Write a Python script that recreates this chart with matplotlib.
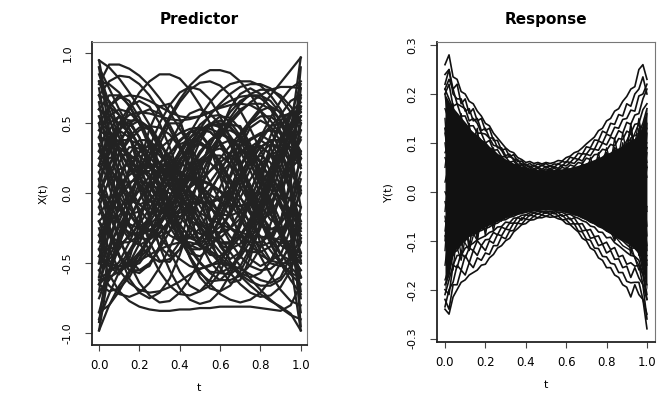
import matplotlib
matplotlib.use("Agg")
import matplotlib.pyplot as plt

# grid of t values for the predictor curves
t_pred = [0.00, 0.05, 0.10, 0.15, 0.20, 0.25, 0.30, 0.35, 0.40, 0.45, 0.50,
          0.55, 0.60, 0.65, 0.70, 0.75, 0.80, 0.85, 0.90, 0.95, 1.00]

predictor_curves = [
    [0.95, 0.90, 0.82, 0.72, 0.61, 0.49, 0.37, 0.25, 0.13, 0.02, -0.09, -0.20, -0.31, -0.42, -0.52, -0.61, -0.69, -0.76, -0.82, -0.87, -0.90],
    [-0.98, -0.80, -0.66, -0.56, -0.47, -0.38, -0.29, -0.20, -0.11, -0.02, 0.07, 0.16, 0.25, 0.34, 0.43, 0.52, 0.61, 0.70, 0.79, 0.88, 0.97],
    [-0.30, -0.22, -0.12, 0.00, 0.13, 0.27, 0.41, 0.55, 0.67, 0.77, 0.84, 0.88, 0.88, 0.86, 0.80, 0.71, 0.59, 0.45, 0.30, 0.15, 0.02],
    [0.10, 0.28, 0.45, 0.60, 0.72, 0.80, 0.85, 0.85, 0.82, 0.74, 0.63, 0.50, 0.35, 0.20, 0.05, -0.08, -0.20, -0.30, -0.37, -0.42, -0.45],
    [0.78, 0.92, 0.92, 0.89, 0.84, 0.77, 0.68, 0.58, 0.46, 0.34, 0.21, 0.08, -0.05, -0.17, -0.28, -0.37, -0.44, -0.48, -0.50, -0.50, -0.48],
    [-0.40, -0.58, -0.70, -0.77, -0.81, -0.83, -0.84, -0.84, -0.83, -0.83, -0.82, -0.82, -0.81, -0.81, -0.81, -0.81, -0.82, -0.83, -0.84, -0.80, -0.65],
    [0.55, 0.35, 0.15, -0.05, -0.25, -0.42, -0.56, -0.66, -0.72, -0.73, -0.70, -0.62, -0.50, -0.36, -0.20, -0.04, 0.12, 0.27, 0.40, 0.50, 0.58],
    [0.40, 0.38, 0.33, 0.26, 0.16, 0.05, -0.07, -0.20, -0.33, -0.45, -0.56, -0.65, -0.72, -0.76, -0.78, -0.76, -0.71, -0.62, -0.50, -0.35, -0.15],
    [0.70, 0.66, 0.56, 0.41, 0.22, 0.00, -0.22, -0.41, -0.56, -0.66, -0.70, -0.66, -0.56, -0.41, -0.22, 0.00, 0.22, 0.41, 0.56, 0.66, 0.70],
    [-0.60, -0.57, -0.49, -0.35, -0.19, 0.00, 0.19, 0.35, 0.49, 0.57, 0.60, 0.57, 0.49, 0.35, 0.19, 0.00, -0.19, -0.35, -0.49, -0.57, -0.60],
    [0.50, 0.45, 0.29, 0.08, -0.15, -0.35, -0.48, -0.49, -0.40, -0.23, 0.00, 0.23, 0.40, 0.49, 0.48, 0.35, 0.15, -0.08, -0.29, -0.45, -0.50],
    [-0.70, -0.62, -0.52, -0.41, -0.29, -0.16, -0.03, 0.10, 0.23, 0.35, 0.46, 0.56, 0.64, 0.71, 0.76, 0.78, 0.78, 0.75, 0.68, 0.58, 0.45],
    [0.30, 0.19, 0.35, 0.49, 0.57, 0.60, 0.57, 0.49, 0.35, 0.19, 0.00, -0.19, -0.35, -0.49, -0.57, -0.60, -0.57, -0.49, -0.35, -0.19, -0.30],
    [-0.35, -0.23, -0.44, -0.61, -0.71, -0.75, -0.71, -0.61, -0.44, -0.23, 0.00, 0.23, 0.44, 0.61, 0.71, 0.75, 0.71, 0.61, 0.44, 0.23, 0.40],
    [0.60, 0.56, 0.50, 0.43, 0.35, 0.26, 0.17, 0.07, -0.03, -0.13, -0.23, -0.33, -0.42, -0.51, -0.59, -0.66, -0.72, -0.77, -0.81, -0.86, -0.98],
    [-0.62, -0.60, -0.56, -0.50, -0.42, -0.33, -0.23, -0.12, -0.01, 0.10, 0.21, 0.31, 0.41, 0.50, 0.58, 0.65, 0.70, 0.74, 0.76, 0.76, 0.75],
    [-0.20, -0.12, -0.03, 0.06, 0.15, 0.24, 0.32, 0.38, 0.43, 0.46, 0.47, 0.46, 0.43, 0.38, 0.32, 0.24, 0.15, 0.06, -0.03, -0.12, -0.20],
    [0.25, 0.18, 0.09, -0.01, -0.11, -0.21, -0.31, -0.40, -0.47, -0.52, -0.54, -0.52, -0.47, -0.40, -0.31, -0.21, -0.11, -0.01, 0.09, 0.18, 0.25],
    [-0.50, -0.38, -0.24, -0.09, 0.07, 0.23, 0.39, 0.53, 0.65, 0.74, 0.79, 0.80, 0.77, 0.70, 0.59, 0.46, 0.31, 0.15, 0.00, -0.14, -0.27],
    [0.10, -0.25, -0.45, -0.55, -0.55, -0.50, -0.40, -0.27, -0.12, 0.04, 0.19, 0.34, 0.47, 0.58, 0.66, 0.70, 0.70, 0.66, 0.57, 0.42, 0.20],
    [0.95, 0.55, 0.30, 0.18, 0.14, 0.16, 0.22, 0.29, 0.35, 0.38, 0.37, 0.31, 0.22, 0.10, -0.03, -0.15, -0.23, -0.26, -0.22, -0.10, 0.15],
    [-0.45, -0.30, -0.16, -0.05, 0.02, 0.05, 0.04, 0.00, -0.07, -0.15, -0.22, -0.27, -0.28, -0.25, -0.18, -0.07, 0.06, 0.18, 0.28, 0.45, 0.97],
    [-0.98, -0.55, -0.28, -0.10, 0.03, 0.12, 0.17, 0.18, 0.16, 0.11, 0.05, -0.01, -0.06, -0.09, -0.09, -0.06, 0.00, -0.04, -0.20, -0.50, -0.98],
    [-0.65, -0.58, -0.38, -0.10, 0.20, 0.46, 0.62, 0.64, 0.53, 0.30, 0.00, -0.30, -0.53, -0.64, -0.62, -0.46, -0.20, 0.10, 0.38, 0.58, 0.65],
    [-0.30, -0.10, 0.05, 0.15, 0.20, 0.21, 0.18, 0.12, 0.05, -0.02, -0.06, -0.07, -0.04, 0.03, 0.13, 0.25, 0.37, 0.48, 0.55, 0.57, 0.50],
    [0.30, 0.35, 0.38, 0.38, 0.35, 0.29, 0.21, 0.11, 0.00, -0.12, -0.24, -0.36, -0.47, -0.57, -0.65, -0.71, -0.74, -0.73, -0.67, -0.55, -0.35],
    [0.40, 0.62, 0.70, 0.66, 0.54, 0.36, 0.15, -0.07, -0.28, -0.46, -0.60, -0.68, -0.70, -0.66, -0.56, -0.42, -0.25, -0.08, 0.09, 0.24, 0.38],
    [-0.20, -0.40, -0.55, -0.64, -0.69, -0.71, -0.70, -0.67, -0.63, -0.58, -0.54, -0.51, -0.50, -0.51, -0.54, -0.58, -0.62, -0.64, -0.60, -0.45, -0.10],
    [0.20, 0.38, 0.50, 0.56, 0.58, 0.57, 0.55, 0.53, 0.52, 0.53, 0.55, 0.58, 0.61, 0.63, 0.64, 0.63, 0.59, 0.52, 0.42, 0.30, 0.18],
    [0.80, 0.78, 0.72, 0.62, 0.50, 0.38, 0.27, 0.19, 0.14, 0.11, 0.09, 0.06, 0.01, -0.07, -0.18, -0.31, -0.45, -0.58, -0.69, -0.77, -0.80],
    [-0.85, -0.80, -0.70, -0.57, -0.43, -0.30, -0.19, -0.12, -0.08, -0.07, -0.07, -0.06, -0.03, 0.03, 0.13, 0.26, 0.40, 0.54, 0.66, 0.75, 0.80],
    [0.00, 0.20, 0.37, 0.48, 0.52, 0.47, 0.33, 0.13, -0.09, -0.28, -0.38, -0.28, -0.09, 0.13, 0.33, 0.47, 0.52, 0.48, 0.37, 0.20, 0.00],
    [0.05, -0.15, -0.33, -0.47, -0.55, -0.52, -0.38, -0.17, 0.08, 0.30, 0.42, 0.33, 0.12, -0.12, -0.33, -0.47, -0.52, -0.48, -0.35, -0.15, 0.10],
    [0.20, 0.10, -0.02, -0.14, -0.24, -0.30, -0.31, -0.27, -0.18, -0.05, 0.10, 0.26, 0.41, 0.54, 0.64, 0.71, 0.74, 0.74, 0.70, 0.62, 0.52],
    [0.85, 0.65, 0.45, 0.24, 0.03, -0.18, -0.38, -0.55, -0.68, -0.76, -0.79, -0.77, -0.70, -0.58, -0.43, -0.26, -0.08, 0.10, 0.27, 0.44, 0.60],
    [-0.85, -0.58, -0.32, -0.08, 0.14, 0.33, 0.50, 0.63, 0.72, 0.76, 0.74, 0.67, 0.55, 0.40, 0.23, 0.05, -0.13, -0.29, -0.43, -0.53, -0.60],
    [0.70, 0.80, 0.84, 0.83, 0.78, 0.70, 0.59, 0.46, 0.32, 0.18, 0.04, -0.09, -0.21, -0.31, -0.38, -0.42, -0.42, -0.38, -0.30, -0.17, 0.00],
    [-0.55, -0.66, -0.72, -0.74, -0.71, -0.64, -0.53, -0.39, -0.23, -0.06, 0.11, 0.27, 0.41, 0.52, 0.60, 0.64, 0.64, 0.60, 0.52, 0.40, 0.25],
    [0.30, 0.50, 0.55, 0.42, 0.15, -0.15, -0.38, -0.45, -0.35, -0.12, 0.15, 0.37, 0.45, 0.38, 0.16, -0.12, -0.36, -0.48, -0.44, -0.25, 0.05],
    [-0.30, -0.52, -0.58, -0.47, -0.22, 0.08, 0.35, 0.50, 0.50, 0.35, 0.10, -0.17, -0.38, -0.47, -0.42, -0.22, 0.06, 0.33, 0.52, 0.58, 0.50],
    [0.90, 0.45, 0.12, -0.10, -0.22, -0.26, -0.22, -0.12, 0.01, 0.15, 0.28, 0.38, 0.44, 0.45, 0.41, 0.33, 0.22, 0.11, 0.02, -0.05, -0.10],
    [-0.92, -0.40, -0.05, 0.18, 0.30, 0.34, 0.30, 0.20, 0.07, -0.07, -0.20, -0.30, -0.35, -0.35, -0.30, -0.20, -0.07, 0.08, 0.24, 0.40, 0.55],
    [0.20, 0.25, 0.28, 0.27, 0.22, 0.14, 0.04, -0.07, -0.17, -0.25, -0.29, -0.29, -0.24, -0.15, -0.03, 0.10, 0.21, 0.27, 0.24, 0.00, -0.95],
    [0.00, -0.12, -0.22, -0.28, -0.30, -0.27, -0.20, -0.10, 0.02, 0.14, 0.24, 0.30, 0.32, 0.28, 0.19, 0.06, -0.08, -0.19, -0.22, 0.10, 0.90],
    [0.10, -0.12, -0.32, -0.50, -0.64, -0.73, -0.78, -0.77, -0.71, -0.61, -0.48, -0.33, -0.17, -0.01, 0.13, 0.25, 0.33, 0.38, 0.38, 0.33, 0.25],
    [-0.40, -0.40, -0.37, -0.31, -0.22, -0.11, 0.02, 0.16, 0.30, 0.43, 0.55, 0.65, 0.73, 0.78, 0.80, 0.80, 0.77, 0.70, 0.60, 0.45, 0.25],
    [0.65, 0.62, 0.56, 0.46, 0.34, 0.20, 0.05, -0.10, -0.25, -0.38, -0.49, -0.57, -0.62, -0.62, -0.59, -0.51, -0.39, -0.22, -0.02, 0.20, 0.45],
    [-0.50, -0.47, -0.40, -0.29, -0.15, 0.00, 0.15, 0.28, 0.38, 0.44, 0.46, 0.44, 0.37, 0.26, 0.12, -0.04, -0.20, -0.36, -0.50, -0.62, -0.72],
    [0.45, 0.40, 0.31, 0.19, 0.05, -0.09, -0.21, -0.30, -0.34, -0.32, -0.25, -0.12, 0.04, 0.21, 0.37, 0.50, 0.59, 0.62, 0.58, 0.46, 0.28],
    [-0.10, 0.10, 0.28, 0.41, 0.47, 0.46, 0.37, 0.22, 0.03, -0.17, -0.35, -0.49, -0.57, -0.58, -0.52, -0.39, -0.22, -0.02, 0.19, 0.38, 0.55],
    [0.15, -0.05, -0.22, -0.33, -0.37, -0.33, -0.23, -0.08, 0.09, 0.26, 0.40, 0.49, 0.52, 0.48, 0.38, 0.23, 0.05, -0.14, -0.31, -0.45, -0.55],
    [-0.45, -0.50, -0.52, -0.51, -0.48, -0.44, -0.40, -0.37, -0.35, -0.35, -0.37, -0.41, -0.46, -0.52, -0.58, -0.63, -0.66, -0.66, -0.62, -0.52, -0.35],
    [0.50, 0.62, 0.68, 0.70, 0.69, 0.66, 0.62, 0.58, 0.55, 0.54, 0.55, 0.58, 0.62, 0.66, 0.69, 0.70, 0.68, 0.62, 0.52, 0.38, 0.20],
    [0.80, 0.60, 0.40, 0.22, 0.07, -0.05, -0.13, -0.17, -0.17, -0.13, -0.06, 0.03, 0.13, 0.22, 0.29, 0.33, 0.33, 0.28, 0.18, 0.02, -0.20],
    [-0.75, -0.55, -0.36, -0.19, -0.05, 0.05, 0.12, 0.15, 0.14, 0.10, 0.03, -0.06, -0.15, -0.24, -0.31, -0.35, -0.35, -0.30, -0.19, -0.02, 0.25],
    [0.00, 0.15, 0.28, 0.38, 0.45, 0.48, 0.47, 0.42, 0.33, 0.21, 0.07, -0.08, -0.22, -0.35, -0.45, -0.52, -0.55, -0.54, -0.48, -0.38, -0.22],
    [0.35, 0.15, -0.05, -0.22, -0.36, -0.45, -0.49, -0.47, -0.40, -0.29, -0.15, 0.00, 0.15, 0.29, 0.41, 0.50, 0.55, 0.55, 0.49, 0.37, 0.18],
    [-0.65, -0.70, -0.68, -0.60, -0.47, -0.31, -0.13, 0.05, 0.22, 0.36, 0.45, 0.49, 0.48, 0.41, 0.30, 0.16, 0.00, -0.15, -0.28, -0.38, -0.43],
    [0.60, 0.70, 0.70, 0.63, 0.50, 0.33, 0.13, -0.08, -0.28, -0.45, -0.57, -0.63, -0.62, -0.55, -0.42, -0.25, -0.06, 0.13, 0.30, 0.45, 0.55],
    [-0.20, -0.30, -0.35, -0.35, -0.30, -0.21, -0.09, 0.05, 0.19, 0.32, 0.42, 0.48, 0.50, 0.47, 0.40, 0.30, 0.17, 0.03, -0.10, -0.22, -0.32],
    [0.25, 0.40, 0.45, 0.40, 0.27, 0.10, -0.08, -0.24, -0.35, -0.38, -0.34, -0.23, -0.07, 0.11, 0.27, 0.38, 0.42, 0.37, 0.24, 0.04, -0.25],
    [-0.40, -0.20, 0.00, 0.17, 0.29, 0.35, 0.34, 0.27, 0.15, 0.00, -0.15, -0.28, -0.37, -0.40, -0.36, -0.26, -0.11, 0.08, 0.28, 0.48, 0.68],
    [0.55, 0.45, 0.36, 0.28, 0.22, 0.18, 0.15, 0.14, 0.13, 0.12, 0.10, 0.07, 0.02, -0.04, -0.12, -0.21, -0.31, -0.41, -0.50, -0.58, -0.65],
    [-0.15, -0.05, 0.05, 0.13, 0.18, 0.20, 0.19, 0.15, 0.09, 0.02, -0.05, -0.11, -0.15, -0.16, -0.13, -0.06, 0.04, 0.18, 0.35, 0.55, 0.78],
    [0.90, 0.75, 0.60, 0.46, 0.33, 0.22, 0.12, 0.04, -0.03, -0.09, -0.14, -0.18, -0.22, -0.25, -0.28, -0.30, -0.31, -0.32, -0.33, -0.40, -0.60],
    [-0.90, -0.72, -0.56, -0.43, -0.32, -0.23, -0.15, -0.08, -0.02, 0.04, 0.10, 0.16, 0.22, 0.28, 0.34, 0.39, 0.43, 0.45, 0.44, 0.30, -0.10],
    [0.05, 0.30, 0.50, 0.62, 0.66, 0.62, 0.50, 0.33, 0.13, -0.08, -0.27, -0.42, -0.50, -0.52, -0.46, -0.34, -0.16, 0.04, 0.25, 0.45, 0.62],
    [-0.05, -0.28, -0.45, -0.55, -0.57, -0.51, -0.38, -0.20, 0.00, 0.20, 0.37, 0.49, 0.55, 0.54, 0.46, 0.32, 0.14, -0.06, -0.26, -0.44, -0.60],
    [0.40, 0.20, 0.05, -0.05, -0.08, -0.05, 0.03, 0.14, 0.27, 0.39, 0.49, 0.55, 0.56, 0.51, 0.41, 0.27, 0.10, -0.08, -0.26, -0.42, -0.55],
    [-0.35, -0.15, 0.00, 0.08, 0.10, 0.06, -0.03, -0.15, -0.28, -0.40, -0.50, -0.56, -0.57, -0.53, -0.44, -0.30, -0.13, 0.06, 0.26, 0.45, 0.62],
    [0.75, 0.35, 0.05, -0.15, -0.25, -0.27, -0.22, -0.12, 0.00, 0.12, 0.22, 0.27, 0.27, 0.21, 0.11, -0.02, -0.15, -0.25, -0.28, -0.15, 0.30],
    [-0.70, -0.25, 0.08, 0.28, 0.38, 0.38, 0.30, 0.17, 0.02, -0.13, -0.25, -0.32, -0.32, -0.25, -0.13, 0.02, 0.17, 0.28, 0.30, 0.10, -0.50],
    [0.50, 0.05, -0.20, -0.30, -0.28, -0.18, -0.04, 0.11, 0.24, 0.32, 0.35, 0.31, 0.21, 0.07, -0.08, -0.22, -0.31, -0.32, -0.20, 0.10, 0.75],
    [-0.50, -0.05, 0.22, 0.33, 0.32, 0.22, 0.07, -0.09, -0.23, -0.31, -0.32, -0.25, -0.12, 0.04, 0.19, 0.30, 0.34, 0.28, 0.10, -0.25, -0.85],
    [0.20, 0.45, 0.55, 0.52, 0.40, 0.22, 0.02, -0.17, -0.32, -0.40, -0.40, -0.32, -0.17, 0.02, 0.20, 0.33, 0.38, 0.33, 0.15, -0.20, -0.70],
    [0.65, 0.20, -0.08, -0.22, -0.25, -0.18, -0.05, 0.10, 0.24, 0.33, 0.36, 0.32, 0.23, 0.10, -0.03, -0.13, -0.18, -0.15, -0.02, 0.25, 0.70],
    [-0.60, -0.15, 0.12, 0.25, 0.27, 0.20, 0.07, -0.08, -0.22, -0.32, -0.35, -0.31, -0.20, -0.05, 0.10, 0.22, 0.27, 0.22, 0.05, -0.25, -0.75],
    [0.05, 0.35, 0.50, 0.50, 0.40, 0.23, 0.03, -0.17, -0.33, -0.43, -0.45, -0.40, -0.28, -0.12, 0.06, 0.22, 0.33, 0.37, 0.30, 0.08, -0.35],
    [-0.25, -0.48, -0.55, -0.50, -0.36, -0.17, 0.04, 0.23, 0.37, 0.44, 0.43, 0.34, 0.19, 0.01, -0.17, -0.31, -0.38, -0.35, -0.20, 0.08, 0.50],
    [0.35, 0.10, -0.10, -0.24, -0.32, -0.33, -0.28, -0.19, -0.07, 0.06, 0.18, 0.28, 0.35, 0.38, 0.37, 0.32, 0.23, 0.10, -0.08, -0.30, -0.60],
    [0.60, 0.52, 0.40, 0.26, 0.12, 0.00, -0.09, -0.14, -0.14, -0.10, -0.02, 0.08, 0.18, 0.26, 0.30, 0.29, 0.22, 0.10, -0.06, -0.24, -0.42],
    [-0.55, -0.45, -0.32, -0.18, -0.04, 0.08, 0.17, 0.22, 0.22, 0.17, 0.08, -0.03, -0.15, -0.25, -0.31, -0.31, -0.24, -0.11, 0.07, 0.28, 0.50],
    [0.15, 0.32, 0.45, 0.52, 0.52, 0.45, 0.32, 0.15, -0.04, -0.22, -0.36, -0.44, -0.45, -0.38, -0.24, -0.06, 0.14, 0.33, 0.48, 0.57, 0.58],
    [-0.10, -0.30, -0.45, -0.52, -0.50, -0.40, -0.24, -0.04, 0.16, 0.33, 0.45, 0.50, 0.47, 0.37, 0.21, 0.02, -0.17, -0.33, -0.44, -0.48, -0.45],
    [0.45, 0.55, 0.60, 0.58, 0.50, 0.37, 0.21, 0.05, -0.09, -0.19, -0.24, -0.22, -0.15, -0.03, 0.12, 0.27, 0.40, 0.48, 0.50, 0.44, 0.30],
    [-0.45, -0.52, -0.55, -0.52, -0.44, -0.32, -0.17, -0.02, 0.11, 0.20, 0.24, 0.22, 0.14, 0.02, -0.13, -0.28, -0.41, -0.50, -0.52, -0.46, -0.32],
    [0.70, 0.45, 0.22, 0.04, -0.08, -0.14, -0.13, -0.06, 0.05, 0.18, 0.30, 0.38, 0.42, 0.40, 0.33, 0.21, 0.06, -0.10, -0.26, -0.40, -0.50],
    [-0.65, -0.42, -0.20, -0.02, 0.12, 0.20, 0.22, 0.17, 0.07, -0.06, -0.19, -0.30, -0.36, -0.36, -0.30, -0.18, -0.02, 0.16, 0.34, 0.50, 0.62],
    [0.05, -0.05, -0.12, -0.15, -0.13, -0.06, 0.05, 0.18, 0.30, 0.40, 0.45, 0.44, 0.37, 0.25, 0.10, -0.06, -0.20, -0.31, -0.36, -0.34, -0.25],
    [-0.05, 0.08, 0.17, 0.21, 0.19, 0.11, -0.01, -0.15, -0.28, -0.37, -0.40, -0.37, -0.28, -0.14, 0.02, 0.17, 0.29, 0.35, 0.33, 0.22, 0.02],
]

# coarse grid for the inner response curves
t_resp = [0.00, 0.04, 0.08, 0.12, 0.16, 0.20, 0.24, 0.28, 0.32, 0.36, 0.40, 0.44, 0.48,
          0.52, 0.56, 0.60, 0.64, 0.68, 0.72, 0.76, 0.80, 0.84, 0.88, 0.92, 0.96, 1.00]

# solid black core where the response curves overlap completely
resp_core_upper = [0.20, 0.17, 0.15, 0.13, 0.115, 0.10, 0.085, 0.072, 0.062, 0.055, 0.05, 0.046, 0.045,
                   0.045, 0.046, 0.048, 0.052, 0.057, 0.063, 0.07, 0.078, 0.086, 0.095, 0.105, 0.115, 0.17]
resp_core_lower = [-0.20, -0.125, -0.105, -0.09, -0.08, -0.072, -0.064, -0.057, -0.05, -0.045, -0.041, -0.038, -0.036,
                   -0.036, -0.038, -0.042, -0.047, -0.054, -0.062, -0.07, -0.08, -0.09, -0.10, -0.11, -0.125, -0.20]

response_inner = [
    [0.15, -0.08, 0.12, -0.06, 0.09, -0.04, 0.07, -0.03, 0.05, -0.02, 0.04, -0.01, 0.03, -0.02, 0.04, -0.02, 0.05, -0.03, 0.06, -0.04, 0.08, -0.06, 0.10, -0.08, 0.13, -0.12],
    [-0.12, 0.10, -0.09, 0.11, -0.07, 0.08, -0.05, 0.06, -0.03, 0.04, -0.02, 0.03, -0.02, 0.035, -0.02, 0.04, -0.03, 0.05, -0.04, 0.07, -0.05, 0.09, -0.08, 0.11, -0.10, 0.14],
    [0.05, 0.18, 0.02, 0.14, 0.00, 0.10, 0.01, 0.07, 0.00, 0.05, 0.01, 0.04, 0.00, 0.04, 0.01, 0.05, 0.00, 0.06, 0.01, 0.08, 0.00, 0.11, 0.02, 0.14, 0.03, 0.16],
    [-0.05, -0.16, 0.00, -0.12, 0.02, -0.09, 0.01, -0.06, 0.00, -0.04, 0.00, -0.03, 0.01, -0.03, 0.00, -0.04, 0.01, -0.05, 0.00, -0.07, 0.01, -0.10, 0.00, -0.13, 0.02, -0.15],
    [0.20, 0.05, 0.16, 0.03, 0.12, 0.02, 0.09, 0.01, 0.06, 0.00, 0.05, 0.00, 0.04, 0.00, 0.04, 0.01, 0.05, 0.01, 0.07, 0.02, 0.09, 0.03, 0.12, 0.04, 0.15, 0.06],
    [-0.15, -0.02, -0.13, 0.00, -0.10, 0.00, -0.08, 0.00, -0.05, 0.00, -0.04, 0.00, -0.03, 0.00, -0.03, 0.00, -0.04, 0.00, -0.05, -0.01, -0.07, -0.01, -0.10, -0.02, -0.13, -0.03],
    [0.08, 0.12, 0.15, 0.06, 0.02, 0.09, 0.06, -0.01, 0.03, 0.04, -0.01, 0.02, 0.03, -0.01, 0.02, 0.03, -0.01, 0.03, 0.05, 0.00, 0.06, 0.09, 0.02, 0.10, 0.14, 0.05],
    [-0.02, -0.10, -0.04, 0.04, -0.08, -0.06, 0.02, -0.05, -0.02, 0.01, -0.03, -0.01, 0.01, -0.02, 0.00, 0.01, -0.03, -0.01, 0.02, -0.05, -0.03, 0.03, -0.09, -0.05, 0.04, -0.11],
    [0.12, 0.03, -0.06, 0.08, 0.13, 0.00, -0.03, 0.06, 0.03, -0.02, 0.03, 0.02, -0.01, 0.02, 0.03, -0.01, 0.02, 0.04, -0.02, 0.05, 0.08, -0.02, 0.07, 0.13, 0.02, 0.09],
    [-0.08, 0.06, 0.01, -0.11, -0.02, 0.05, -0.06, -0.02, 0.03, -0.04, 0.00, 0.02, -0.02, 0.00, -0.02, 0.02, 0.00, -0.03, 0.03, 0.01, -0.07, 0.04, -0.03, -0.10, 0.06, -0.04],
    [0.02, 0.09, -0.11, 0.02, 0.05, -0.07, 0.04, 0.03, -0.04, 0.02, 0.02, -0.02, 0.02, 0.01, -0.02, 0.02, 0.01, -0.02, 0.04, -0.03, 0.02, 0.07, -0.06, 0.05, 0.09, -0.07],
    [0.17, 0.12, 0.07, 0.13, 0.05, 0.07, 0.03, 0.05, 0.02, 0.03, 0.01, 0.02, 0.01, 0.02, 0.02, 0.02, 0.03, 0.02, 0.04, 0.06, 0.05, 0.09, 0.08, 0.11, 0.12, 0.10],
    [-0.18, -0.13, -0.09, -0.12, -0.06, -0.08, -0.04, -0.05, -0.03, -0.03, -0.02, -0.02, -0.02, -0.01, -0.02, -0.03, -0.02, -0.04, -0.05, -0.06, -0.08, -0.09, -0.11, -0.12, -0.15, -0.19],
    [0.00, -0.04, 0.08, -0.01, 0.03, 0.06, -0.04, 0.02, 0.04, -0.03, 0.02, 0.03, -0.02, 0.02, 0.03, -0.02, 0.03, 0.01, -0.04, 0.04, 0.01, -0.05, 0.05, 0.00, -0.06, 0.08],
    [0.13, -0.12, 0.05, 0.10, -0.09, 0.04, 0.06, -0.04, 0.03, 0.04, -0.02, 0.03, 0.02, -0.02, 0.03, 0.03, -0.02, 0.04, 0.05, -0.04, 0.07, 0.06, -0.07, 0.10, 0.08, -0.09],
    [-0.10, 0.14, -0.02, -0.08, 0.10, -0.03, -0.05, 0.07, -0.02, -0.03, 0.04, -0.01, -0.02, 0.03, -0.01, -0.02, 0.04, -0.03, -0.03, 0.07, -0.04, -0.06, 0.10, -0.06, -0.09, 0.12],
    [0.07, 0.02, 0.11, 0.10, 0.04, 0.09, 0.05, 0.02, 0.06, 0.03, 0.02, 0.04, 0.03, 0.02, 0.04, 0.03, 0.04, 0.05, 0.03, 0.06, 0.08, 0.05, 0.09, 0.12, 0.08, 0.13],
    [-0.06, -0.09, -0.14, -0.05, -0.09, -0.03, -0.07, -0.04, -0.01, -0.04, -0.02, -0.01, -0.03, -0.02, -0.01, -0.03, -0.02, -0.02, -0.05, -0.03, -0.06, -0.10, -0.05, -0.11, -0.16, -0.13],
    [0.10, -0.03, 0.06, 0.09, -0.05, 0.07, 0.00, 0.05, -0.02, 0.03, 0.01, -0.01, 0.02, 0.01, -0.01, 0.03, 0.00, 0.04, -0.02, 0.06, -0.01, 0.07, 0.04, -0.05, 0.10, 0.03],
    [-0.04, 0.12, -0.07, 0.03, 0.08, -0.05, 0.04, -0.03, 0.04, 0.00, 0.02, 0.01, -0.01, 0.02, 0.00, -0.01, 0.02, -0.02, 0.04, -0.02, 0.05, -0.04, 0.06, 0.07, -0.07, 0.05],
    [0.13, 0.08, -0.04, 0.11, 0.03, -0.02, 0.08, 0.01, 0.03, 0.04, 0.00, 0.03, 0.02, 0.00, 0.03, 0.01, 0.03, 0.00, 0.05, 0.03, -0.02, 0.08, 0.05, 0.00, 0.11, 0.09],
    [-0.09, -0.13, 0.03, -0.07, -0.10, 0.01, -0.05, -0.04, 0.00, -0.03, -0.01, 0.00, -0.02, -0.01, 0.01, -0.02, -0.02, 0.00, -0.04, -0.04, 0.00, -0.07, -0.05, 0.02, -0.10, -0.14],
]

# fine grid for the ragged outer response curves
t_edge = [0.00, 0.02, 0.04, 0.06, 0.08, 0.10, 0.12, 0.14, 0.16, 0.18, 0.20, 0.22, 0.24,
          0.26, 0.28, 0.30, 0.32, 0.34, 0.36, 0.38, 0.40, 0.42, 0.44, 0.46, 0.48, 0.50,
          0.52, 0.54, 0.56, 0.58, 0.60, 0.62, 0.64, 0.66, 0.68, 0.70, 0.72, 0.74, 0.76,
          0.78, 0.80, 0.82, 0.84, 0.86, 0.88, 0.90, 0.92, 0.94, 0.96, 0.98, 1.00]

response_outer = [
    [0.26, 0.28, 0.235, 0.23, 0.205, 0.20, 0.185, 0.18, 0.165, 0.155, 0.14, 0.135, 0.12, 0.11, 0.10, 0.09, 0.083, 0.08, 0.07, 0.066, 0.06, 0.062, 0.058, 0.06, 0.057, 0.06,
     0.058, 0.06, 0.064, 0.063, 0.07, 0.073, 0.08, 0.083, 0.09, 0.098, 0.105, 0.112, 0.125, 0.13, 0.145, 0.15, 0.165, 0.17, 0.185, 0.195, 0.21, 0.215, 0.25, 0.26, 0.23],
    [0.24, 0.25, 0.21, 0.22, 0.18, 0.19, 0.16, 0.17, 0.145, 0.15, 0.125, 0.13, 0.105, 0.105, 0.085, 0.088, 0.072, 0.076, 0.062, 0.063, 0.054, 0.058, 0.052, 0.057, 0.053, 0.058,
     0.052, 0.057, 0.056, 0.062, 0.06, 0.071, 0.068, 0.079, 0.077, 0.092, 0.09, 0.106, 0.105, 0.124, 0.12, 0.14, 0.138, 0.158, 0.155, 0.18, 0.175, 0.20, 0.21, 0.235, 0.20],
    [0.22, 0.25, 0.20, 0.19, 0.19, 0.165, 0.17, 0.145, 0.15, 0.125, 0.13, 0.11, 0.11, 0.09, 0.09, 0.074, 0.077, 0.065, 0.066, 0.055, 0.057, 0.05, 0.055, 0.049, 0.055, 0.05,
     0.054, 0.049, 0.058, 0.052, 0.062, 0.06, 0.069, 0.066, 0.078, 0.077, 0.088, 0.087, 0.104, 0.10, 0.118, 0.114, 0.132, 0.13, 0.148, 0.15, 0.167, 0.165, 0.196, 0.20, 0.22],
    [0.21, 0.23, 0.21, 0.18, 0.175, 0.17, 0.145, 0.15, 0.14, 0.12, 0.118, 0.11, 0.095, 0.093, 0.085, 0.07, 0.072, 0.068, 0.056, 0.058, 0.05, 0.053, 0.047, 0.051, 0.046, 0.052,
     0.047, 0.052, 0.048, 0.055, 0.053, 0.06, 0.058, 0.067, 0.063, 0.077, 0.074, 0.087, 0.085, 0.10, 0.096, 0.112, 0.108, 0.125, 0.12, 0.142, 0.138, 0.157, 0.16, 0.19, 0.21],
    [0.20, 0.22, 0.175, 0.18, 0.155, 0.155, 0.135, 0.135, 0.12, 0.12, 0.10, 0.105, 0.085, 0.086, 0.072, 0.072, 0.06, 0.063, 0.053, 0.055, 0.047, 0.049, 0.044, 0.048, 0.043, 0.047,
     0.044, 0.048, 0.045, 0.05, 0.047, 0.055, 0.052, 0.06, 0.058, 0.069, 0.066, 0.076, 0.077, 0.087, 0.085, 0.097, 0.094, 0.109, 0.107, 0.124, 0.12, 0.138, 0.14, 0.168, 0.18],
    [0.21, 0.19, 0.17, 0.16, 0.15, 0.14, 0.13, 0.115, 0.115, 0.105, 0.10, 0.09, 0.085, 0.075, 0.072, 0.063, 0.062, 0.055, 0.055, 0.049, 0.048, 0.044, 0.045, 0.042, 0.044, 0.042,
     0.045, 0.042, 0.046, 0.043, 0.047, 0.046, 0.05, 0.049, 0.055, 0.055, 0.061, 0.06, 0.068, 0.066, 0.075, 0.073, 0.082, 0.082, 0.092, 0.093, 0.103, 0.10, 0.12, 0.14, 0.17],
    [-0.24, -0.25, -0.215, -0.20, -0.185, -0.18, -0.17, -0.165, -0.16, -0.15, -0.148, -0.135, -0.128, -0.115, -0.11, -0.10, -0.095, -0.082, -0.075, -0.067, -0.065, -0.058, -0.057, -0.053, -0.053, -0.05,
     -0.052, -0.051, -0.055, -0.057, -0.065, -0.067, -0.075, -0.082, -0.095, -0.10, -0.115, -0.12, -0.135, -0.14, -0.155, -0.155, -0.17, -0.175, -0.19, -0.195, -0.215, -0.19, -0.21, -0.22, -0.28],
    [-0.22, -0.24, -0.19, -0.19, -0.16, -0.17, -0.145, -0.155, -0.135, -0.14, -0.125, -0.128, -0.11, -0.11, -0.092, -0.096, -0.08, -0.079, -0.064, -0.066, -0.056, -0.057, -0.05, -0.053, -0.047, -0.05,
     -0.046, -0.051, -0.049, -0.057, -0.057, -0.066, -0.065, -0.08, -0.082, -0.097, -0.099, -0.115, -0.116, -0.132, -0.133, -0.146, -0.148, -0.165, -0.165, -0.183, -0.186, -0.185, -0.185, -0.22, -0.25],
    [-0.235, -0.20, -0.185, -0.15, -0.16, -0.13, -0.145, -0.12, -0.13, -0.11, -0.12, -0.10, -0.105, -0.087, -0.09, -0.076, -0.078, -0.064, -0.064, -0.053, -0.056, -0.047, -0.05, -0.044, -0.047, -0.041,
     -0.046, -0.042, -0.049, -0.047, -0.056, -0.054, -0.066, -0.065, -0.08, -0.078, -0.095, -0.093, -0.11, -0.107, -0.125, -0.12, -0.138, -0.137, -0.155, -0.152, -0.175, -0.155, -0.176, -0.19, -0.26],
    [-0.20, -0.21, -0.15, -0.155, -0.125, -0.135, -0.115, -0.12, -0.10, -0.11, -0.098, -0.097, -0.083, -0.088, -0.072, -0.076, -0.064, -0.064, -0.052, -0.058, -0.047, -0.049, -0.043, -0.046, -0.04, -0.044,
     -0.04, -0.045, -0.042, -0.05, -0.047, -0.057, -0.053, -0.066, -0.065, -0.079, -0.077, -0.092, -0.09, -0.107, -0.103, -0.118, -0.114, -0.133, -0.13, -0.148, -0.145, -0.152, -0.15, -0.19, -0.22],
    [-0.21, -0.18, -0.15, -0.13, -0.13, -0.115, -0.11, -0.105, -0.098, -0.094, -0.09, -0.083, -0.08, -0.072, -0.071, -0.062, -0.063, -0.054, -0.053, -0.048, -0.047, -0.043, -0.043, -0.04, -0.041, -0.039,
     -0.041, -0.039, -0.042, -0.042, -0.046, -0.046, -0.051, -0.054, -0.059, -0.062, -0.07, -0.072, -0.082, -0.083, -0.094, -0.093, -0.104, -0.11, -0.117, -0.124, -0.13, -0.132, -0.14, -0.17, -0.22],
    [-0.19, -0.17, -0.125, -0.12, -0.105, -0.10, -0.09, -0.088, -0.082, -0.079, -0.075, -0.072, -0.066, -0.064, -0.058, -0.057, -0.052, -0.05, -0.046, -0.044, -0.042, -0.04, -0.039, -0.038, -0.037, -0.036,
     -0.037, -0.037, -0.039, -0.039, -0.042, -0.043, -0.047, -0.048, -0.053, -0.056, -0.062, -0.065, -0.071, -0.074, -0.08, -0.083, -0.09, -0.095, -0.10, -0.108, -0.115, -0.115, -0.125, -0.16, -0.21],
]

x_ticks = [0.0, 0.2, 0.4, 0.6, 0.8, 1.0]
x_labels = ["0.0", "0.2", "0.4", "0.6", "0.8", "1.0"]
pred_yticks = [-1.0, -0.5, 0.0, 0.5, 1.0]
pred_ylabels = ["-1.0", "-0.5", "0.0", "0.5", "1.0"]
resp_yticks = [-0.3, -0.2, -0.1, 0.0, 0.1, 0.2, 0.3]
resp_ylabels = ["-0.3", "-0.2", "-0.1", "0.0", "0.1", "0.2", "0.3"]


def style_axes(ax, title, ylabel, yticks, ylabels):
    ax.set_title(title, fontsize=11, fontweight="bold", pad=13)
    ax.set_xlabel("t", fontsize=8, labelpad=8)
    ax.set_ylabel(ylabel, fontsize=8, labelpad=10)
    ax.set_xticks(x_ticks)
    ax.set_xticklabels(x_labels, fontsize=8.5)
    ax.set_yticks(yticks)
    ax.set_yticklabels(ylabels, fontsize=8, rotation=90, va="center")
    ax.tick_params(axis="x", direction="out", length=4, width=0.8, pad=6, color="#444444")
    ax.tick_params(axis="y", direction="out", length=5, width=0.8, pad=9, color="#444444")
    for side in ["left", "bottom"]:
        ax.spines[side].set_linewidth(1.3)
        ax.spines[side].set_color("#222222")
    for side in ["top", "right"]:
        ax.spines[side].set_linewidth(0.8)
        ax.spines[side].set_color("#777777")


def main():
    fig = plt.figure(figsize=(6.57, 3.94), dpi=100)

    ax1 = fig.add_axes([0.140, 0.124, 0.327, 0.769])
    for curve in predictor_curves:
        ax1.plot(t_pred, curve, color="#222222", linewidth=1.6)
    ax1.set_xlim(-0.035, 1.03)
    ax1.set_ylim(-1.085, 1.08)
    style_axes(ax1, "Predictor", "X(t)", pred_yticks, pred_ylabels)

    ax2 = fig.add_axes([0.665, 0.132, 0.332, 0.761])
    ax2.fill_between(t_resp, resp_core_lower, resp_core_upper, color="#111111", linewidth=0)
    for curve in response_inner:
        ax2.plot(t_resp, curve, color="#111111", linewidth=1.0)
    for curve in response_outer:
        ax2.plot(t_edge, curve, color="#111111", linewidth=1.2)
    ax2.set_xlim(-0.04, 1.04)
    ax2.set_ylim(-0.307, 0.306)
    style_axes(ax2, "Response", "Y(t)", resp_yticks, resp_ylabels)

    fig.savefig("out.png", dpi=100)


if __name__ == "__main__":
    main()
